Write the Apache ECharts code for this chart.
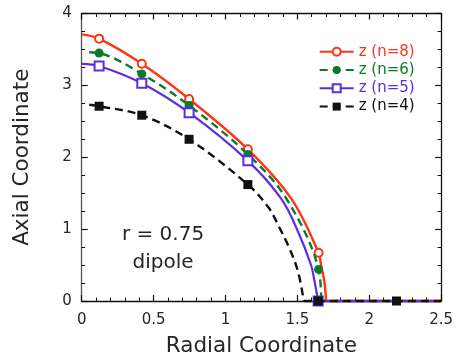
<!DOCTYPE html>
<html>
<head>
<meta charset="utf-8">
<script src="https://cdn.jsdelivr.net/npm/echarts@6/dist/echarts.min.js"></script>
<style>
  html, body { margin: 0; padding: 0; background: #fff; }
  #chart { width: 456px; height: 362px; }
</style>
</head>
<body>
<div id="chart"></div>
<script>
// Axis ranges
const xRange = [0, 2.5];
const yRange = [0, 4];
const xStep = 0.5;
const yStep = 1;

// Series names (legend order)
const seriesNames = ['z (n=8)', 'z (n=6)', 'z (n=5)', 'z (n=4)'];

// Marked points of each profile [radial, axial]
const n8Marks = [[0.121, 3.65], [0.418, 3.30], [0.747, 2.81], [1.156, 2.11], [1.648, 0.67]];
const n6Marks = [[0.121, 3.45], [0.418, 3.16], [0.747, 2.72], [1.156, 2.04], [1.648, 0.44]];
const n5Marks = [[0.121, 3.27], [0.418, 3.03], [0.747, 2.62], [1.156, 1.95], [1.645, 0]];
const n4Marks = [[0.121, 2.71], [0.418, 2.585], [0.747, 2.25], [1.156, 1.62]];
const n4TailMarks = [[1.645, 0], [2.19, 0]];

// Unmarked points along each profile curve
const n8Trace = [[0, 3.71], [1.459, 1.42], [1.666, 0.49], [1.689, 0.26], [1.70, 0]];
const n6Trace = [[0.052, 3.46], [1.425, 1.42], [1.666, 0]];
const n5Trace = [[0, 3.30], [1.389, 1.42], [1.506, 0.96], [1.597, 0.49], [1.621, 0.26]];
const n4Trace = [[0.052, 2.73], [1.30, 1.30], [1.368, 1.05], [1.448, 0.72], [1.506, 0.40], [1.545, 0]];

const colors = ['#ff3414', '#0b7a2a', '#5a2ee4', '#111111'];
const font = 'DejaVu Sans';

function mergeProfile(marks, trace) {
  const pts = marks.map(p => ({ value: p, marked: true }))
    .concat(trace.map(p => ({ value: p, marked: false })));
  pts.sort((a, b) => a.value[0] - b.value[0]);
  return pts.map(p => p.marked ? { value: p.value } : { value: p.value, symbol: 'none' });
}

function lastX(points) {
  return points.reduce((m, p) => Math.max(m, p.value[0]), -Infinity);
}

const profiles = [
  { marks: n8Marks, trace: n8Trace, symbol: 'emptyCircle', size: 8, dashed: false, width: 2.4, tailMarks: [] },
  { marks: n6Marks, trace: n6Trace, symbol: 'circle', size: 9, dashed: true, width: 2.4, tailMarks: [] },
  { marks: n5Marks, trace: n5Trace, symbol: 'emptyRect', size: 9, dashed: false, width: 2.2, tailMarks: [] },
  { marks: n4Marks, trace: n4Trace, symbol: 'rect', size: 9, dashed: true, width: 2.4, tailMarks: n4TailMarks }
];

const series = [];
profiles.forEach((p, i) => {
  const curve = mergeProfile(p.marks, p.trace);
  const lineStyle = {
    color: colors[i], width: p.width,
    type: p.dashed ? [8, 5] : 'solid'
  };
  series.push({
    name: seriesNames[i], type: 'line', smooth: 0.35,
    data: curve, symbol: p.symbol, symbolSize: p.size,
    showAllSymbol: true, clip: false, z: 2 + i,
    itemStyle: { color: colors[i], borderWidth: 1.4 },
    lineStyle: lineStyle
  });
  // flat part along the radial axis once the profile reaches zero
  const x0 = lastX(curve);
  const tail = [{ value: [x0, 0], symbol: 'none' }]
    .concat(p.tailMarks.map(m => ({ value: m })))
    .concat([{ value: [xRange[1], 0], symbol: 'none' }]);
  series.push({
    name: seriesNames[i], type: 'line', smooth: false,
    data: tail, symbol: p.symbol, symbolSize: p.size,
    showAllSymbol: true, clip: false, z: 2 + i,
    itemStyle: { color: colors[i] },
    lineStyle: lineStyle
  });
});

const axisColor = '#111';
const tickCommon = {
  axisLine: { show: true, onZero: false, lineStyle: { color: axisColor, width: 1.3 } },
  axisTick: { show: true, inside: true, length: 6, lineStyle: { color: axisColor, width: 1.2 } },
  splitLine: { show: false },
  minorSplitLine: { show: false }
};
const labelStyle = { fontFamily: font, fontSize: 15, color: '#262626' };

const option = {
  animation: false,
  backgroundColor: '#fff',
  grid: { left: 81.7, right: 11.7, top: 13.5, bottom: 59.7, containLabel: false },
  legend: {
    orient: 'vertical', left: 313.7, top: 39.2,
    itemWidth: 34, itemHeight: 10, itemGap: 3.3,
    selectedMode: false,
    textStyle: { fontFamily: font, fontSize: 15 },
    data: seriesNames.map((n, i) => ({ name: n, textStyle: { color: colors[i] } }))
  },
  xAxis: [
    Object.assign({
      type: 'value', position: 'bottom', min: xRange[0], max: xRange[1], interval: xStep,
      minorTick: { show: true, splitNumber: 5, length: 3.5, lineStyle: { color: axisColor, width: 1 } },
      axisLabel: Object.assign({ margin: 12 }, labelStyle),
      name: 'Radial Coordinate', nameLocation: 'middle', nameGap: 34,
      nameTextStyle: { fontFamily: font, fontSize: 21.5, color: '#262626' }
    }, tickCommon),
    Object.assign({
      type: 'value', position: 'top', min: xRange[0], max: xRange[1], interval: xStep,
      minorTick: { show: true, splitNumber: 5, length: 3.5, lineStyle: { color: axisColor, width: 1 } },
      axisLabel: { show: false }
    }, tickCommon)
  ],
  yAxis: [
    Object.assign({
      type: 'value', position: 'left', min: yRange[0], max: yRange[1], interval: yStep,
      minorTick: { show: true, splitNumber: 4, length: 3.5, lineStyle: { color: axisColor, width: 1 } },
      axisLabel: Object.assign({ margin: 10 }, labelStyle),
      name: 'Axial Coordinate', nameLocation: 'middle', nameGap: 48,
      nameTextStyle: { fontFamily: font, fontSize: 21.5, color: '#262626' }
    }, tickCommon, { axisLine: { show: true, onZero: false, lineStyle: { color: '#555', width: 1.3 } } }),
    Object.assign({
      type: 'value', position: 'right', min: yRange[0], max: yRange[1], interval: yStep,
      minorTick: { show: true, splitNumber: 4, length: 3.5, lineStyle: { color: axisColor, width: 1 } },
      axisLabel: { show: false }
    }, tickCommon)
  ],
  graphic: [
    { type: 'text', x: 163, y: 235, style: { text: 'r = 0.75', font: '20px "DejaVu Sans"', fill: '#262626', align: 'center', verticalAlign: 'middle' } },
    { type: 'text', x: 163, y: 263, style: { text: 'dipole', font: '20px "DejaVu Sans"', fill: '#262626', align: 'center', verticalAlign: 'middle' } }
  ],
  series: series
};

const chart = echarts.init(document.getElementById('chart'), null, { renderer: 'canvas' });
chart.setOption(option);
</script>
</body>
</html>
